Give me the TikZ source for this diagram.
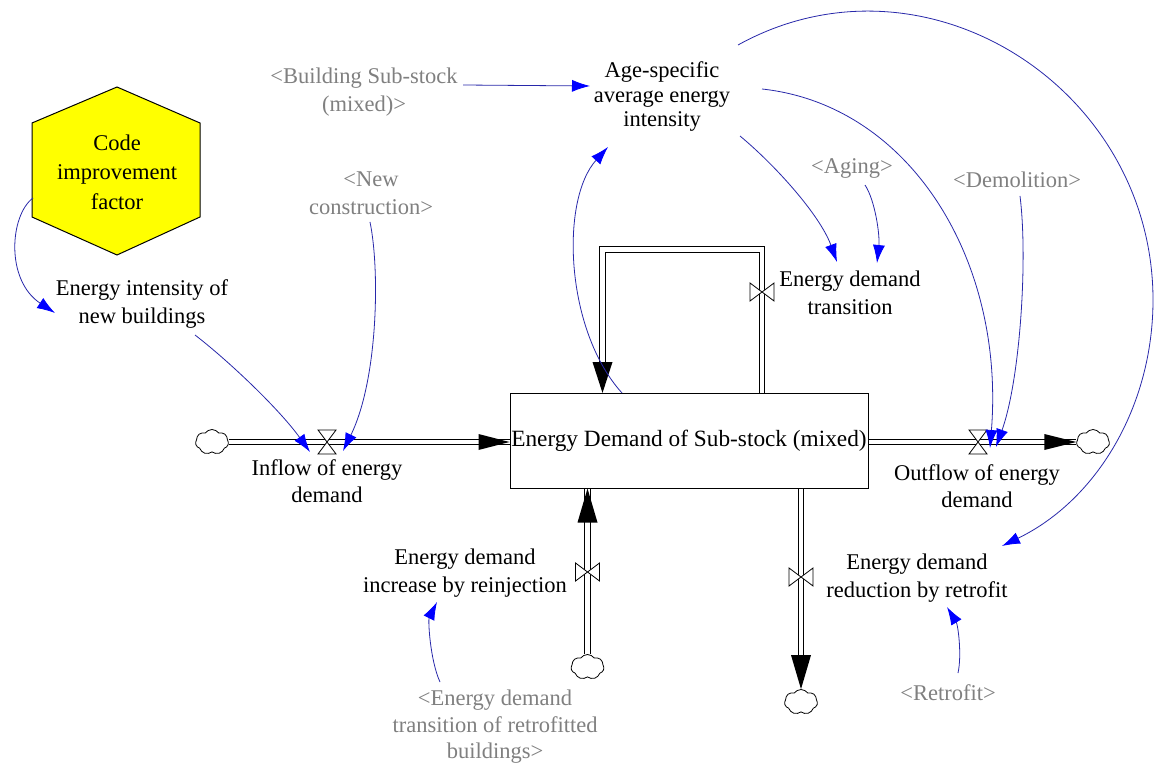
\documentclass[tikz,border=0pt]{standalone}
\usepackage{fontspec}
\setmainfont{Liberation Serif}
\usetikzlibrary{arrows.meta,shapes.symbols,calc}
\definecolor{linkc}{RGB}{40,40,170}
\definecolor{tipc}{RGB}{0,0,255}
\definecolor{shadowc}{RGB}{128,128,128}
\definecolor{hexy}{RGB}{255,255,0}
\begin{document}
\begin{tikzpicture}[x=1pt,y=-1pt,
  lbl/.style={align=center,font=\fontsize{22.5}{27.5}\selectfont,inner sep=0pt},
  shd/.style={lbl,text=shadowc},
  link/.style={draw=linkc,line width=0.8pt,-{Latex[length=18pt,width=12pt,color=tipc]}},
  pipe/.style={draw=black,line width=1pt,double=white,double distance=4.5pt},
  cloudn/.style={cloud,draw,cloud puffs=7,cloud puff arc=110,aspect=1.4,minimum width=33pt,minimum height=25pt,inner sep=0pt,line width=0.8pt,fill=white},
  hvalve/.pic={\filldraw[fill=white,line width=0.8pt] (-9,-12)--(9,-12)--(-9,12)--(9,12)--cycle;},
  vvalve/.pic={\filldraw[fill=white,line width=0.8pt] (-12,-9)--(-12,9)--(12,-9)--(12,9)--cycle;}
]
\useasboundingbox (0,0) rectangle (1154,767);
\fill[white] (0,0) rectangle (1154,767);

% hexagon constant
\filldraw[fill=hexy,draw=black,line width=1pt] (117,87)--(200,123)--(200,217)--(117,255)--(32,217)--(32,123)--cycle;
\node[lbl,font=\fontsize{22.5}{29.5}\selectfont] (code) at (117,172) {Code\\improvement\\factor};

% stock
\node[lbl,font=\fontsize{23.3}{28}\selectfont,draw,line width=1pt,minimum width=358pt,minimum height=95pt] (stock) at (689,440.5) {Energy Demand of Sub-stock (mixed)};

% clouds
\node[cloudn] (c1) at (212,442) {};
\node[cloudn] (c2) at (1093,442) {};
\node[cloudn] (c3) at (587.5,667) {};
\node[cloudn] (c4) at (801,702) {};

% inflow
\draw[pipe] (c1.east) -- (c1.east -| stock.west);
\fill (c1.east -| stock.west) -- ++(-31,-8) -- ++(0,16) -- cycle;
\coordinate (vin) at (327,442);
\pic at (vin) {hvalve};

% outflow
\draw[pipe] (stock.east |- c2.west) -- (c2.west);
\fill (c2.west) -- ++(-32,-8) -- ++(0,16) -- cycle;
\coordinate (vout) at (978,442);
\pic at (vout) {hvalve};

% loop flow (transition)
\coordinate (loopR) at (762,393);
\coordinate (loopL) at (602.5,393);
\draw[pipe] (loopR) -- ++(0,-143.5) -| ($(loopL)+(0,-30)$);
\fill (loopL) -- ++(-10,-31) -- ++(20,0) -- cycle;
\coordinate (vtr) at (762,292);
\pic at (vtr) {vvalve};

% reinjection inflow
\draw[pipe] (c3.north) -- (c3.north |- stock.south);
\fill (c3.north |- stock.south) -- ++(-10,34) -- ++(20,0) -- cycle;
\coordinate (vre) at (587.5,572);
\pic at (vre) {vvalve};

% retrofit outflow
\draw[pipe] (c4.north |- stock.south) -- ($(c4.north)+(0,-30)$);
\fill (c4.north) -- ++(-10,-34) -- ++(20,0) -- cycle;
\coordinate (vrr) at (801,577);
\pic at (vrr) {vvalve};

% labels
\node[lbl,font=\fontsize{22.5}{24.5}\selectfont] (age) at (662,97) {Age-specific\\average energy\\intensity};
\node[shd] (bss) at (364,92) {<Building Sub-stock\\(mixed)>};
\node[shd] (newc) at (371,193) {<New\\construction>};
\node[shd] (aging) at (852,168) {<Aging>};
\node[shd] (demol) at (1017,180) {<Demolition>};
\node[lbl] (eint) at (142,304) {Energy intensity of\\new buildings};
\node[lbl] (trans) at (850,293) {Energy demand\\transition};
\node[lbl] (inflow) at (327,481) {Inflow of energy\\demand};
\node[lbl] (outflow) at (977,486) {Outflow of energy\\demand};
\node[lbl] (reinj) at (465,573) {Energy demand\\increase by reinjection};
\node[lbl] (retro) at (917,578) {Energy demand\\reduction by retrofit};
\node[shd] (rfit) at (948,693) {<Retrofit>};
\node[shd,font=\fontsize{22.5}{26.5}\selectfont] (edt) at (495,727) {<Energy demand\\transition of retrofitted\\buildings>};

% link end points
\coordinate (hexL) at (33,198);
\coordinate (eiIn) at (55,313);
\coordinate (eiOut) at (195,335);
\coordinate (vinA) at (310,452);
\coordinate (ncOut) at (370,222);
\coordinate (vinB) at (343,451);
\coordinate (bssOut) at (463,85);
\coordinate (ageIn1) at (590,86);
\coordinate (stockOut) at (622,393);
\coordinate (ageIn2) at (608,147);
\coordinate (ageOut1) at (740,136);
\coordinate (trIn1) at (837,262);
\coordinate (agingOut) at (865,185);
\coordinate (trIn2) at (877,263);
\coordinate (ageOut2) at (762,89);
\coordinate (voutA) at (990,448);
\coordinate (demOut) at (1020,196);
\coordinate (voutB) at (996,447);
\coordinate (ageOut3) at (738,45);
\coordinate (retIn1) at (1002,546);
\coordinate (edtOut) at (440,682);
\coordinate (reinIn) at (437,602);
\coordinate (rfOut) at (958,673);
\coordinate (retIn2) at (947,607);

% links
\draw[link] (hexL) .. controls (10,215) and (5,280) .. (eiIn);
\draw[link] (eiOut) .. controls (230,362) and (280,410) .. (vinA);
\draw[link] (ncOut) .. controls (380,270) and (378,380) .. (vinB);
\draw[link] (bssOut) -- (ageIn1);
\draw[link] (stockOut) .. controls (565,330) and (560,200) .. (ageIn2);
\draw[link] (ageOut1) .. controls (775,165) and (820,215) .. (trIn1);
\draw[link] (agingOut) .. controls (875,200) and (880,235) .. (trIn2);
\draw[link] (ageOut2) .. controls (910,105) and (1005,260) .. (voutA);
\draw[link] (demOut) .. controls (1028,260) and (1020,380) .. (voutB);
\draw[link] (ageOut3) .. controls (924,-58) and (1153,87) .. (1153,300) .. controls (1153,406) and (1097,500) .. (retIn1);
\draw[link] (edtOut) .. controls (430,660) and (428,620) .. (reinIn);
\draw[link] (rfOut) .. controls (962,655) and (958,625) .. (retIn2);
\end{tikzpicture}
\end{document}
